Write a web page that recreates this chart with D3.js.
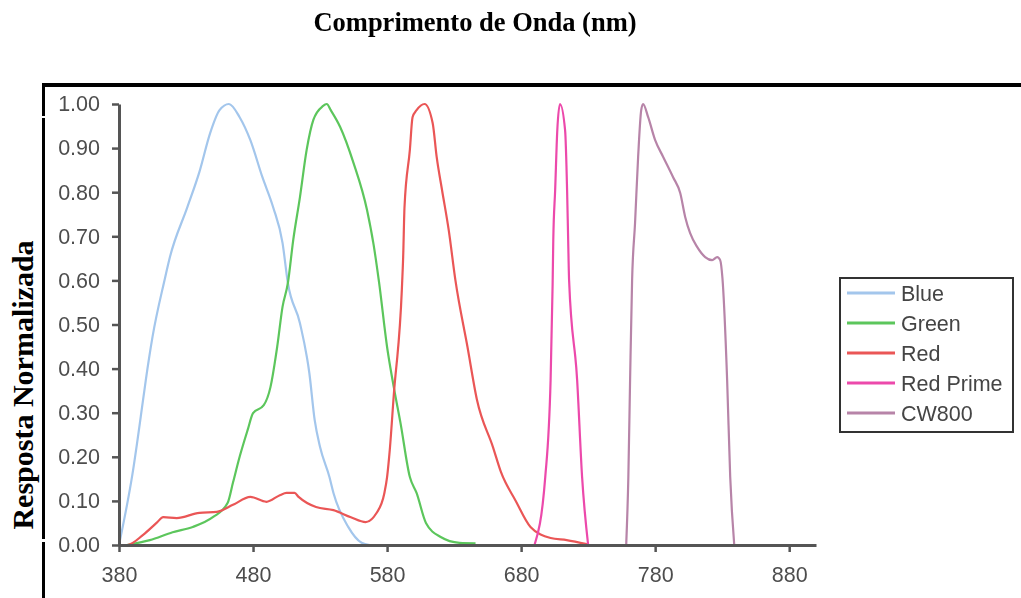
<!DOCTYPE html>
<html>
<head>
<meta charset="utf-8">
<script src="https://cdn.jsdelivr.net/npm/d3@7"></script>
<style>
  body { margin: 0; background: #fff; }
  svg { display: block; }
</style>
</head>
<body>
<script>
const width = 1021;
const height = 598;

// tick values
const xTicks = [380, 480, 580, 680, 780, 880];
const yTicks = [0, 0.1, 0.2, 0.3, 0.4, 0.5, 0.6, 0.7, 0.8, 0.9, 1.0];

// series (wavelength nm / normalized response)
const blueNm  = [380, 390, 398, 400, 405, 414, 418, 431, 440, 448, 455, 462, 470, 478, 487, 495, 502, 506, 515, 522, 526, 530, 537, 540, 551, 561, 567];
const blueVal = [0, 0.16, 0.33, 0.374, 0.472, 0.601, 0.653, 0.766, 0.846, 0.934, 0.986, 1.0, 0.97, 0.918, 0.834, 0.766, 0.685, 0.594, 0.503, 0.39, 0.283, 0.222, 0.154, 0.118, 0.041, 0.005, 0];

const greenNm  = [386, 403, 420, 435, 450, 461, 465, 470, 476, 480, 488, 493, 498, 502, 506, 510, 515, 520, 525, 532, 535, 538, 545, 555, 565, 570, 574, 580, 585, 590, 597, 602, 609, 620, 634, 646];
const greenVal = [0, 0.011, 0.029, 0.041, 0.063, 0.095, 0.141, 0.2, 0.261, 0.299, 0.317, 0.358, 0.449, 0.54, 0.594, 0.692, 0.789, 0.896, 0.964, 0.995, 1.0, 0.986, 0.948, 0.866, 0.76, 0.68, 0.596, 0.449, 0.358, 0.277, 0.154, 0.118, 0.05, 0.018, 0.005, 0.004];

const redNm  = [380, 386, 398, 408, 413, 423, 440, 453, 465, 478, 490, 500, 505, 511, 514, 527, 540, 553, 564, 572, 578, 580, 582, 585, 591, 592, 593, 597, 599, 602, 608, 614, 617, 621, 626, 631, 640, 647, 659, 665, 676, 687, 702, 714, 729];
const redVal = [0, 0, 0.023, 0.05, 0.063, 0.061, 0.073, 0.075, 0.091, 0.109, 0.098, 0.113, 0.118, 0.118, 0.109, 0.086, 0.079, 0.063, 0.052, 0.072, 0.118, 0.154, 0.215, 0.34, 0.578, 0.653, 0.766, 0.896, 0.97, 0.986, 1.0, 0.957, 0.88, 0.805, 0.714, 0.6, 0.449, 0.33, 0.222, 0.165, 0.1, 0.041, 0.016, 0.011, 0.002];

const redPrimeNm  = [690, 698, 702, 703.5, 704, 705.4, 707, 709, 712.8, 714.3, 715.1, 715.8, 721.8, 725.5, 730];
const redPrimeVal = [0, 0.154, 0.374, 0.59, 0.692, 0.805, 0.941, 1.0, 0.941, 0.805, 0.692, 0.6, 0.374, 0.154, 0];

const cw800Nm  = [758.4, 760, 761.3, 762.8, 765, 767.3, 769.6, 771, 774.8, 780, 786, 793.4, 798.7, 802.4, 806.1, 811.3, 817.3, 822.5, 826.3, 828.5, 830.2, 833.7, 836, 839];
const cw800Val = [0, 0.154, 0.374, 0.6, 0.73, 0.88, 0.986, 1.0, 0.97, 0.918, 0.88, 0.834, 0.798, 0.744, 0.707, 0.676, 0.653, 0.646, 0.653, 0.646, 0.605, 0.374, 0.154, 0];

const seriesNames  = ["Blue", "Green", "Red", "Red Prime", "CW800"];
const seriesColors = ["#a3c6ec", "#5cc65c", "#ea5656", "#ec4aab", "#b784a8"];
const seriesNm  = [blueNm, greenNm, redNm, redPrimeNm, cw800Nm];
const seriesVal = [blueVal, greenVal, redVal, redPrimeVal, cw800Val];

const x = d3.scaleLinear().domain([380, 900]).range([119, 816]);
const y = d3.scaleLinear().domain([0, 1]).range([545, 104]);

const svg = d3.select("body").append("svg")
    .attr("width", width)
    .attr("height", height);

svg.append("rect").attr("width", width).attr("height", height).attr("fill", "#fff");

const defs = svg.append("defs");
defs.append("filter").attr("id", "soft")
    .append("feGaussianBlur").attr("stdDeviation", 0.5);

const chart = svg.append("g").attr("filter", "url(#soft)");

// series lines
const line = d3.line()
    .x(d => x(d[0]))
    .y(d => y(d[1]))
    .curve(d3.curveMonotoneX);

seriesNames.forEach((name, i) => {
    const pts = seriesNm[i].map((v, j) => [v, seriesVal[i][j]]);
    chart.append("path")
        .attr("d", line(pts))
        .attr("fill", "none")
        .attr("stroke", seriesColors[i])
        .attr("stroke-width", 2.2)
        .attr("stroke-linejoin", "round");
});

// axes
const axisColor = "#555";
const labelFont = "'Liberation Sans', Arial, sans-serif";

const yAxis = chart.append("g")
    .attr("transform", `translate(${x(380)},0)`)
    .call(d3.axisLeft(y).tickValues(yTicks).tickFormat(d3.format(".2f"))
        .tickSize(7).tickSizeOuter(0).tickPadding(12));

const xAxis = chart.append("g")
    .attr("transform", `translate(0,${y(0)})`)
    .call(d3.axisBottom(x).tickValues(xTicks).tickFormat(d3.format("d"))
        .tickSize(7).tickSizeOuter(0).tickPadding(15));

[yAxis, xAxis].forEach(a => {
    a.select(".domain").attr("stroke", axisColor).attr("stroke-width", 3);
    a.selectAll(".tick line").attr("stroke", axisColor).attr("stroke-width", 2.5);
    a.selectAll(".tick text")
        .attr("fill", "#4d4d4d")
        .style("font-family", labelFont)
        .style("font-size", "21.5px");
});

// legend
const legend = chart.append("g");
legend.append("rect")
    .attr("x", 840).attr("y", 278)
    .attr("width", 173).attr("height", 154)
    .attr("fill", "#fff")
    .attr("stroke", "#333")
    .attr("stroke-width", 2);

seriesNames.forEach((name, i) => {
    const cy = 293 + i * 30;
    legend.append("line")
        .attr("x1", 847).attr("x2", 895)
        .attr("y1", cy).attr("y2", cy)
        .attr("stroke", seriesColors[i])
        .attr("stroke-width", 3);
    legend.append("text")
        .attr("x", 901).attr("y", cy)
        .attr("dy", "0.35em")
        .attr("fill", "#444")
        .style("font-family", labelFont)
        .style("font-size", "21.5px")
        .text(name);
});

// frame pieces from the pasted document
svg.append("rect").attr("x", 45).attr("y", 117).attr("width", 13).attr("height", 423).attr("fill", "#fff");
svg.append("rect").attr("x", 42).attr("y", 83).attr("width", width - 42).attr("height", 4).attr("fill", "#000");
svg.append("rect").attr("x", 42).attr("y", 83).attr("width", 3).attr("height", 33).attr("fill", "#000");
svg.append("rect").attr("x", 42).attr("y", 118).attr("width", 3).attr("height", 421).attr("fill", "#000");
svg.append("rect").attr("x", 42).attr("y", 542).attr("width", 3).attr("height", 56).attr("fill", "#000");

// titles
svg.append("text")
    .attr("x", 475).attr("y", 31)
    .attr("text-anchor", "middle")
    .style("font-family", "'Liberation Serif', 'Times New Roman', serif")
    .style("font-weight", "bold")
    .style("font-size", "26.5px")
    .text("Comprimento de Onda (nm)");

svg.append("text")
    .attr("transform", "translate(33,385) rotate(-90)")
    .attr("text-anchor", "middle")
    .style("font-family", "'Liberation Serif', 'Times New Roman', serif")
    .style("font-weight", "bold")
    .style("font-size", "30px")
    .text("Resposta Normalizada");
</script>
</body>
</html>
